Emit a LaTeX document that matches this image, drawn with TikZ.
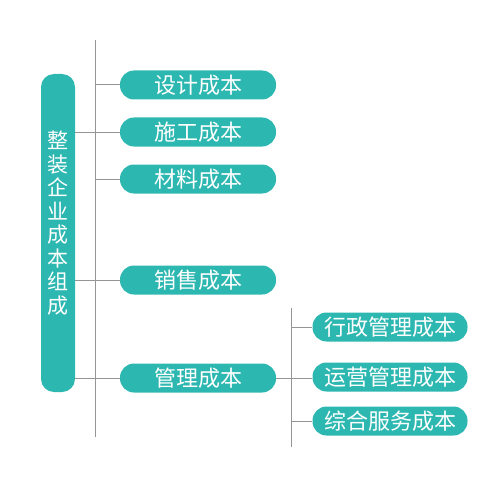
\documentclass[tikz,border=0pt]{standalone}
\usepackage{fontspec}
\setmainfont{Noto Sans CJK SC}
\usetikzlibrary{positioning}
\definecolor{teal1}{HTML}{2DB7B1}
\definecolor{line1}{HTML}{959595}
\tikzset{
  costbox/.style={rounded corners=14pt, fill=teal1, text=white, minimum width=156pt, minimum height=29pt, inner sep=0pt, font=\fontsize{22pt}{23pt}\selectfont},
  subbox/.style={costbox, minimum width=155pt},
  link/.style={draw=line1, line width=1pt}
}
\begin{document}
\begin{tikzpicture}[x=1pt, y=-1pt]
      \useasboundingbox (0,0) rectangle (500,492);

      \node[rounded corners=13pt, fill=teal1, minimum width=34pt, minimum height=318pt, inner sep=0pt] (root) at (58,233) {};
      \node[text=white, inner sep=0pt, font=\fontsize{21pt}{23.5pt}\selectfont, align=center] (roottext) at ([yshift=10pt]root.center) {整\\装\\企\\业\\成\\本\\组\\成};

      \coordinate (top) at (95,40);
      \coordinate (bottom) at (95,437);
      \draw[link] (top) -- (bottom);

      \node[costbox] (design) at (198,85) {设计成本};
      \node[costbox] (build) at (198,132) {施工成本};
      \node[costbox] (material) at (198,179) {材料成本};
      \node[costbox] (sales) at (198,280) {销售成本};
      \node[costbox] (manage) at (198,378) {管理成本};

      \coordinate (d) at (95,85);
      \coordinate (m) at (95,179);
      \draw[link] (d) -- (design.west);
      \draw[link] (m) -- (material.west);
      \draw[link] (root.east |- build) -- (build.west);
      \draw[link] (root.east |- sales) -- (sales.west);
      \draw[link] (root.east |- manage) -- (manage.west);

      \node[subbox] (admin) at (390,327) {行政管理成本};
      \node[subbox] (oper) at (390,377) {运营管理成本};
      \node[subbox] (service) at (390,421) {综合服务成本};

      \coordinate (top2) at (291,308);
      \coordinate (bottom2) at (291,447);
      \draw[link] (top2) -- (bottom2);
      \draw[link] (manage.east) -- (manage.east -| oper.west);
      \draw[link] (top2 |- admin) -- (admin.west);
      \draw[link] (top2 |- service) -- (service.west);
    \end{tikzpicture}
\end{document}
